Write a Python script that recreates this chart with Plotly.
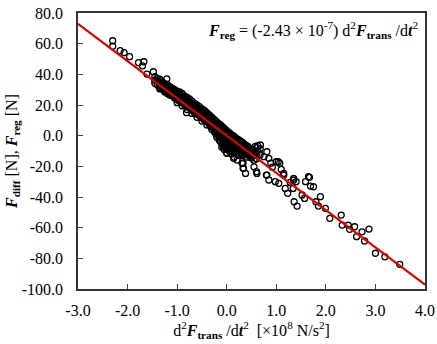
import plotly.graph_objects as go

# ---------------- data ----------------
# sparse points
x_sparse = [-2.30, -2.30, -2.15, -2.07, -1.96, -1.78, -1.70, -1.67, -1.61, -1.48, -1.41, -1.21, -0.81,
            -0.07, 0.00, 0.14, 0.21, 0.31, 0.34, 0.38, 0.55, 0.61, 0.33, 0.33, 0.60, 0.81,
            0.68, 0.81, 0.75, 0.85, 1.00, 1.07, 0.89, 1.15, 1.35, 1.67,
            0.80, 0.85, 0.98, 1.05, 1.15, 1.18, 1.23, 1.35, 1.40, 1.34, 1.04,
            1.65, 1.59, 1.69, 1.75, 1.36, 1.42, 1.52, 1.57, 1.80, 1.85, 1.89, 1.99,
            2.08, 2.31, 2.33, 2.45, 2.48, 2.58, 2.62, 2.73, 2.78, 2.87, 3.00, 3.19, 3.49,
            0.92, 1.10, 1.28]
y_sparse = [61.9, 58.3, 55.4, 54.1, 51.5, 47.6, 45.5, 48.2, 40.2, 41.7, 37.4, 37.0, 15.0,
            -7.2, -11.5, -14.8, -15.9, -18.0, -21.3, -24.6, -20.3, -24.6, -18.0, -21.3, -23.5, -25.7,
            -6.1, -10.5, -13.7, -14.8, -17.0, -18.0, -18.0, -24.6, -27.8, -27.2,
            -25.7, -28.9, -30.0, -31.1, -25.7, -34.4, -37.6, -28.9, -30.0, -34.4, -17.0,
            -26.8, -30.0, -32.9, -33.3, -43.1, -45.9, -38.7, -40.9, -43.1, -45.9, -39.8, -47.4,
            -53.9, -51.8, -58.3, -58.3, -61.1, -59.4, -65.9, -62.7, -68.7, -60.9, -76.7, -79.0, -83.9,
            -20.5, -22.0, -30.5]

# dense band near the regression line (x value -> y values read at that x)
band = {
    -1.45: [38.5, 36.0, 34.2],
    -1.40: [37.0, 35.5, 33.0],
    -1.35: [36.8, 34.5, 32.0, 30.5],
    -1.30: [35.0, 33.2, 31.0],
    -1.25: [34.0, 32.0, 30.0, 28.5],
    -1.20: [33.5, 31.5, 29.0, 27.5],
    -1.15: [32.0, 30.0, 28.0, 26.5],
    -1.10: [31.0, 29.5, 27.5, 26.0],
    -1.05: [30.0, 28.5, 26.5, 24.5],
    -1.00: [29.0, 27.5, 25.5, 23.5, 21.5],
    -0.95: [28.5, 26.5, 24.5, 22.5],
    -0.90: [27.5, 25.5, 23.5, 21.5, 19.5],
    -0.85: [26.0, 24.0, 22.0, 20.0],
    -0.80: [25.0, 23.0, 21.0, 19.0, 17.0],
    -0.75: [24.0, 22.0, 20.0, 18.0],
    -0.70: [22.5, 20.5, 18.5, 16.5, 14.5],
    -0.65: [21.0, 19.0, 17.0, 15.0],
    -0.60: [20.0, 18.0, 16.0, 14.0, 12.0],
    -0.55: [19.0, 17.0, 15.0, 13.0],
    -0.50: [17.5, 15.5, 13.5, 11.5, 9.5],
    -0.45: [16.5, 14.0, 12.0, 10.0],
    -0.40: [15.0, 13.0, 11.0, 9.0, 7.0],
    -0.35: [13.5, 11.5, 9.5, 7.5],
    -0.30: [12.0, 10.0, 8.0, 6.0, 4.0],
    -0.25: [10.5, 8.5, 6.5, 4.5, 2.5],
    -0.20: [9.0, 7.0, 5.0, 3.0, 1.0, -1.0],
    -0.15: [7.5, 5.5, 3.5, 1.5, -0.5, -3.0],
    -0.10: [6.0, 4.0, 2.0, 0.0, -2.0, -5.0, -7.5],
    -0.05: [4.5, 2.5, 0.5, -1.5, -3.5, -6.0, -9.0],
    0.00: [3.0, 1.0, -1.0, -3.0, -5.0, -8.0, -11.0],
    0.05: [2.0, 0.0, -2.0, -4.0, -6.5, -10.0],
    0.10: [0.5, -1.5, -3.5, -5.5, -8.0, -12.0],
    0.15: [-0.5, -2.5, -4.5, -6.5, -9.5, -14.0],
    0.20: [-2.0, -4.0, -6.0, -8.0, -11.5],
    0.25: [-3.0, -5.0, -7.0, -9.5, -13.0],
    0.30: [-4.0, -6.0, -8.5, -11.0],
    0.35: [-5.5, -7.5, -10.0, -12.5],
    0.40: [-6.5, -9.0, -11.5, -14.0],
    0.45: [-8.0, -10.5, -13.0],
    0.50: [-9.0, -12.0, -14.5],
    0.55: [-10.5, -13.0, -16.0],
    0.60: [-8.0, -12.0, -15.0],
    -1.325: [35.0, 33.0, 31.0],
    -1.275: [34.0, 32.0, 30.0],
    -1.225: [33.0, 31.0, 29.0],
    -1.175: [32.0, 30.0, 28.0],
    -1.125: [31.0, 29.0, 27.0],
    -1.075: [30.0, 28.0, 26.0],
    -1.025: [28.5, 26.5, 24.5],
    -0.975: [27.5, 25.5, 23.5],
    -0.925: [26.5, 24.5, 22.5],
    -0.875: [25.0, 23.0, 21.0],
    -0.825: [24.0, 22.0, 20.0],
    -0.775: [23.0, 21.0, 19.0],
    -0.725: [21.5, 19.5, 17.5],
    -0.675: [20.5, 18.5, 16.5],
    -0.625: [19.5, 17.5, 15.0],
    -0.575: [18.0, 16.0, 14.0],
    -0.525: [17.0, 15.0, 12.5],
    -0.475: [15.5, 13.5, 11.5],
    -0.425: [14.5, 12.5, 10.0],
    -0.375: [13.0, 11.0, 9.0],
    -0.325: [12.0, 10.0, 8.0, 6.0],
    -0.275: [11.0, 9.0, 7.0, 5.0],
    -0.225: [9.5, 7.5, 5.5, 3.5, 1.5],
    -0.175: [8.0, 6.0, 4.0, 2.0, 0.0],
    -0.125: [7.0, 5.0, 3.0, 1.0, -1.0, -4.0],
    -0.075: [5.5, 3.5, 1.5, -0.5, -2.5, -5.0],
    -0.025: [4.0, 2.0, 0.0, -2.0, -4.0, -7.0],
    0.025: [2.5, 0.5, -1.5, -3.5, -5.5, -9.0],
    0.075: [1.0, -1.0, -3.0, -5.0, -7.0, -10.5],
    0.125: [0.0, -2.0, -4.0, -6.0, -8.5],
    0.175: [-1.5, -3.5, -5.5, -7.5, -10.5],
    0.225: [-2.5, -4.5, -6.5, -9.0, -12.0],
    0.275: [-3.5, -5.5, -8.0, -10.5],
    0.325: [-4.5, -7.0, -9.5, -13.0],
    0.375: [-6.0, -8.5, -11.0],
    0.425: [-7.0, -9.5, -12.5],
    0.475: [-8.5, -11.0, -14.0],
    0.525: [-9.5, -12.5],
    0.575: [-7.0, -11.0],
    0.625: [-6.5, -10.0],
    0.675: [-8.5, -12.5],
}

slope = -24.3          # (-2.43e-7) * 1e8
line_x = [-3.0, 4.0]

x_ticks = [-3, -2, -1, 0, 1, 2, 3, 4]
x_ticktext = ["-3.0", "-2.0", "-1.0", "0.0", "1.0", "2.0", "3.0", "4.0"]
y_ticks = [80, 60, 40, 20, 0, -20, -40, -60, -80, -100]
y_ticktext = ["80.0", "60.0", "40.0", "20.0", "0.0", "-20.0", "-40.0", "-60.0", "-80.0", "-100.0"]

# ---------------- build ----------------
xs = list(x_sparse)
ys = list(y_sparse)
for bx, yl in band.items():
    for yv in yl:
        xs.append(bx)
        ys.append(yv)

line_y = [slope * v for v in line_x]

FONT = "Liberation Serif, Times New Roman, serif"

fig = go.Figure()
fig.add_trace(go.Scatter(
    x=xs, y=ys, mode="markers",
    marker=dict(symbol="circle-open", size=6, color="black", line=dict(width=1.3)),
    showlegend=False, hoverinfo="skip"))
fig.add_trace(go.Scatter(
    x=line_x, y=line_y, mode="lines",
    line=dict(color="#e00000", width=2.2),
    showlegend=False, hoverinfo="skip"))

fig.update_layout(
    width=437, height=344,
    margin=dict(l=78, r=12, t=13, b=55, autoexpand=False),
    paper_bgcolor="white", plot_bgcolor="white",
    font=dict(family=FONT, size=16, color="black"),
    xaxis=dict(
        range=[-3, 4], tickvals=x_ticks, ticktext=x_ticktext,
        ticks="inside", ticklen=5, tickcolor="#444", tickwidth=1,
        showgrid=False, zeroline=False, automargin=False,
        showline=True, linecolor="#333", linewidth=1.5, mirror=True,
        ticklabelstandoff=6,
        title=dict(text="d<sup>2</sup><b><i>F</i></b><sub><b>trans</b></sub> /d<b><i>t</i></b><sup>2</sup>  [×10<sup>8</sup> N/s<sup>2</sup>]",
                   font=dict(family=FONT, size=16), standoff=6),
    ),
    yaxis=dict(
        range=[-100, 80], tickvals=y_ticks, ticktext=y_ticktext,
        ticks="inside", ticklen=5, tickcolor="#444", tickwidth=1,
        showgrid=False, zeroline=False, automargin=False,
        showline=True, linecolor="#333", linewidth=1.5, mirror=True,
        ticklabelstandoff=10,
        title=dict(text="<b><i>F</i></b><sub><b>diff</b></sub> [N], <b><i>F</i></b><sub><b>reg</b></sub> [N]",
                   font=dict(family=FONT, size=16), standoff=0),
    ),
    annotations=[dict(
        x=0.985, y=0.985, xref="paper", yref="paper", xanchor="right", yanchor="top",
        showarrow=False,
        text="<b><i>F</i></b><sub><b>reg</b></sub> = (-2.43 × 10<sup>-7</sup>) d<sup>2</sup><b><i>F</i></b><sub><b>trans</b></sub> /d<b><i>t</i></b><sup>2</sup>",
        font=dict(family=FONT, size=16, color="black"))],
)

fig.write_html("out.html")
